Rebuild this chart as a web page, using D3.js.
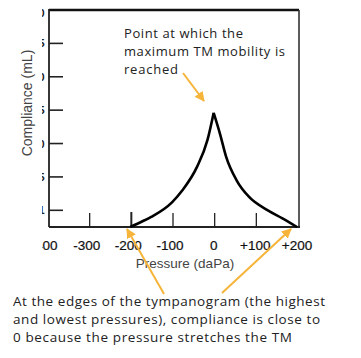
<!DOCTYPE html>
<html><head><meta charset="utf-8">
<script src="https://cdn.jsdelivr.net/npm/d3@7"></script>
<style>html,body{margin:0;padding:0;background:#fff;}svg{display:block;}</style>
</head><body>
<script>
// ---- data ----
const pressure   = [-200, -190, -150, -100, -75, -40, -15, 0, 15, 30, 55, 85, 130, 165, 200];
const compliance = [0, 0.06, 0.30, 0.74, 1.10, 1.80, 2.60, 3.42, 2.80, 2.10, 1.40, 0.90, 0.50, 0.26, 0];
const xTicks = [-400, -300, -200, -100, 0, 100, 200];
const xTickLabels = ["-400", "-300", "-200", "-100", "0", "+100", "+200"];
const yTicks = [6.5, 5.5, 4.5, 3.5, 2.5, 1.5, 0.5];
const yTickLabels = ["3.0", "2.5", "2.0", "1.5", "1.0", "0.5", "0.1"];
const xTitle = "Pressure (daPa)";
const yTitle = "Compliance (mL)";
const noteTop = ["Point at which the", "maximum TM mobility is", "reached"];
const noteBottom = ["At the edges of the tympanogram (the highest", "and lowest pressures), compliance is close to", "0 because the pressure stretches the TM"];

const W = 361, H = 358;
const svg = d3.select("body").append("svg").attr("width", W).attr("height", H);
const x = d3.scaleLinear().domain([-400, 200]).range([47, 297]);
const y = d3.scaleLinear().domain([0, 6.5]).range([227, 10]);
const L = 49, R = 299, T = 10, B = 227;
const orange = "#F6B53A";

// y tick labels (mostly hidden behind a white band)
svg.append("g").selectAll("text").data(yTicks).join("text")
  .attr("x", 44.5).attr("y", (d, i) => y(d) + (i === 0 ? 7 : 4))
  .attr("text-anchor", "end").attr("font-family", "Liberation Sans, Arial, sans-serif")
  .attr("font-size", 11).attr("font-weight", "bold").attr("fill", "#222")
  .text((d, i) => yTickLabels[i]);

// x tick labels
svg.append("g").selectAll("text").data(xTicks).join("text")
  .attr("x", (d) => x(d) + (d < 0 ? (d === -400 ? -3 : -2) : 0)).attr("y", 250)
  .attr("text-anchor", "middle").attr("font-family", "Liberation Sans, Arial, sans-serif")
  .attr("font-size", 13.5).attr("fill", "#111").attr("stroke", "#111").attr("stroke-width", 0.2)
  .text((d, i) => xTickLabels[i]);

// white band covering the left part of tick labels
svg.append("rect").attr("x", 0).attr("y", 0).attr("width", 42).attr("height", 260).attr("fill", "#fff");

// frame
svg.append("line").attr("x1", L).attr("x2", R).attr("y1", T).attr("y2", T).attr("stroke", "#111").attr("stroke-width", 2.6);
svg.append("line").attr("x1", L).attr("x2", L).attr("y1", T - 1).attr("y2", B).attr("stroke", "#222").attr("stroke-width", 1.8);
svg.append("line").attr("x1", R).attr("x2", R).attr("y1", T).attr("y2", B).attr("stroke", "#333").attr("stroke-width", 1.6);
svg.append("line").attr("x1", L).attr("x2", R + 1).attr("y1", B).attr("y2", B).attr("stroke", "#222").attr("stroke-width", 1.8);

// y ticks
svg.append("g").selectAll("line").data(yTicks.slice(1)).join("line")
  .attr("x1", L).attr("x2", L + 14).attr("y1", d => y(d)).attr("y2", d => y(d))
  .attr("stroke", "#222").attr("stroke-width", 1.6);

// x ticks
svg.append("g").selectAll("line").data(xTicks.filter(d => d > -400 && d < 200)).join("line")
  .attr("x1", d => x(d) + 1).attr("x2", d => x(d) + 1)
  .attr("y1", d => d === -200 ? B - 15 : B - 14).attr("y2", B)
  .attr("stroke", "#222").attr("stroke-width", d => d === -200 ? 2 : 1.3);

// curve (two halves meeting in a cusp)
const pts = pressure.map((p, i) => [p, compliance[i]]);
const line = d3.line().x(d => x(d[0])).y(d => y(d[1])).curve(d3.curveMonotoneX);
const left = pts.filter(d => d[0] <= 0), right = pts.filter(d => d[0] >= 0);
[left, right].forEach(seg => svg.append("path").datum(seg).attr("d", line)
  .attr("fill", "none").attr("stroke", "#000").attr("stroke-width", 2.6).attr("stroke-linejoin", "miter"));

// axis titles
svg.append("text").attr("x", 185).attr("y", 268).attr("text-anchor", "middle")
  .attr("font-family", "Liberation Sans, Arial, sans-serif").attr("font-size", 13.5).attr("fill", "#444").text(xTitle);
svg.append("text").attr("transform", "translate(32,103) rotate(-90)").attr("text-anchor", "middle")
  .attr("font-family", "Liberation Sans, Arial, sans-serif").attr("font-size", 14).attr("fill", "#444").text(yTitle);

// arrows
const defs = svg.append("defs");
defs.append("marker").attr("id", "ah").attr("viewBox", "0 0 10 10").attr("refX", 9).attr("refY", 5)
  .attr("markerWidth", 5).attr("markerHeight", 5).attr("orient", "auto").attr("markerUnits", "strokeWidth")
  .append("path").attr("d", "M0,0 L10,5 L0,10 z").attr("fill", orange);
const arrows = [[183, 73, 204, 101], [164, 294, 127, 229], [222, 293, 291, 229]];
svg.append("g").selectAll("line").data(arrows).join("line")
  .attr("x1", d => d[0]).attr("y1", d => d[1]).attr("x2", d => d[2]).attr("y2", d => d[3])
  .attr("stroke", orange).attr("stroke-width", 2).attr("marker-end", "url(#ah)");

// notes
const noteFont = "Open Sans, Lato, sans-serif";
const topLens = [119, 161, 54];
svg.append("g").selectAll("text").data(noteTop).join("text")
  .attr("x", 124).attr("y", (d, i) => 38 + i * 18).attr("font-family", noteFont).attr("font-size", 13)
  .attr("textLength", (d, i) => topLens[i]).attr("lengthAdjust", "spacing")
  .attr("fill", "#222").text(d => d);
const bottomLens = [312, 307, 279];
svg.append("g").selectAll("text").data(noteBottom).join("text")
  .attr("x", 13).attr("y", (d, i) => 306 + i * 18).attr("font-family", noteFont).attr("font-size", 13.5)
  .attr("textLength", (d, i) => bottomLens[i]).attr("lengthAdjust", "spacing")
  .attr("fill", "#222").text(d => d);
</script>
</body></html>
